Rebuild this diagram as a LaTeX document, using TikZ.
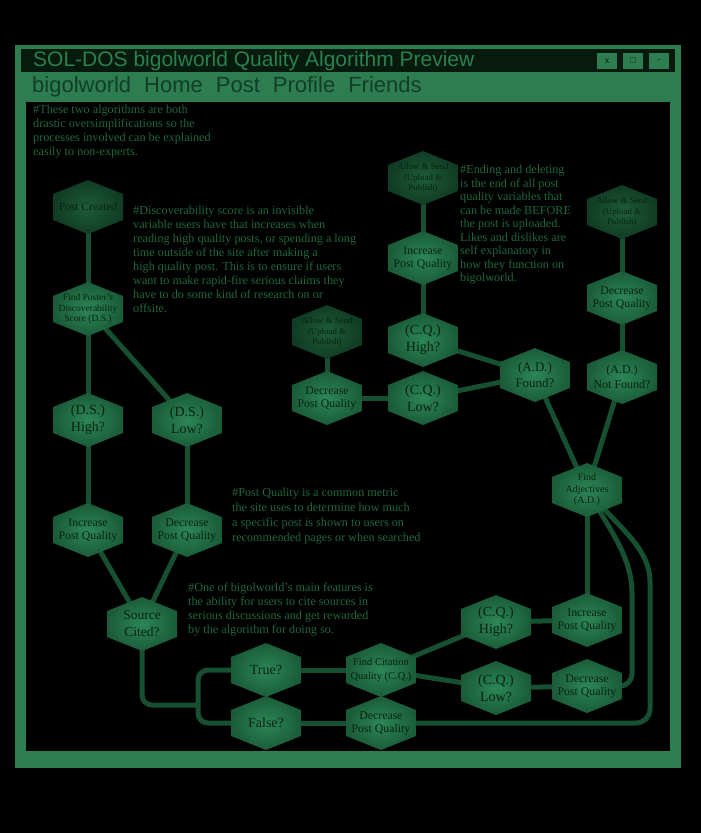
\documentclass[tikz,border=0pt]{standalone}
\usepackage{fontspec}
\setmainfont{Liberation Serif}
\newfontfamily\uifont{Liberation Sans}
\usetikzlibrary{positioning,calc,backgrounds}

\begin{document}
\begin{tikzpicture}[x=1pt, y=-1pt, every node/.style={inner sep=0pt},
        hexshade/.style={inner color=hexlight, outer color=hexdark},
        hexcell/.style={minimum width=70pt, minimum height=54pt, align=center, text=hexink,
            font=\fontsize{11.8}{13}\selectfont,
            path picture={\shade[hexshade]
                (path picture bounding box.north)
                -- ([yshift=-14pt]path picture bounding box.north east)
                -- ([yshift=14pt]path picture bounding box.south east)
                -- (path picture bounding box.south)
                -- ([yshift=14pt]path picture bounding box.south west)
                -- ([yshift=-14pt]path picture bounding box.north west) -- cycle;}},
        endcell/.style={hexcell, font=\fontsize{8.8}{10.5}\selectfont,
            hexshade/.style={inner color=endlight, outer color=enddark}},
        link/.style={draw=linkgreen, line width=5pt},
        note/.style={anchor=north west, align=left, text=notegreen, font=\fontsize{12.2}{14}\selectfont},
        button/.style={fill=framegreen, minimum width=20pt, minimum height=16pt, text=hexink,
            font=\uifont\fontsize{9}{9}\selectfont}]
    \definecolor{framegreen}{RGB}{45,125,80}
    \definecolor{titlebar}{RGB}{6,26,14}
    \definecolor{titleink}{RGB}{42,128,78}
    \definecolor{menuink}{RGB}{18,62,38}
    \definecolor{hexlight}{RGB}{44,134,85}
    \definecolor{hexdark}{RGB}{26,92,56}
    \definecolor{endlight}{RGB}{30,92,58}
    \definecolor{enddark}{RGB}{16,60,36}
    \definecolor{hexink}{RGB}{8,34,19}
    \definecolor{linkgreen}{RGB}{22,80,48}
    \definecolor{notegreen}{RGB}{30,104,60}

    \useasboundingbox (0,0) rectangle (701,833);

    % Title bar and menu
    \node[anchor=west, text=titleink, font=\uifont\fontsize{21}{24}\selectfont] (title) at (33,61) {SOL-DOS bigolworld Quality Algorithm Preview};
    \node[button] (btnclose) at (607,61) {x};
    \node[button] (btnmax) at (633,61) {□};
    \node[button] (btnmin) at (659,61) {-};
    \node[anchor=west, text=menuink, font=\uifont\fontsize{22}{24}\selectfont] (menu) at (32,87) {bigolworld\hspace{13pt}Home\hspace{13pt}Post\hspace{13pt}Profile\hspace{13pt}Friends};

    % Notes
    \node[note] (noteintro) at (33,105) {\#These two algorithms are both\\drastic oversimplifications so the\\processes involved can be explained\\easily to non-experts.};
    \node[note] (noteds) at (133,206) {\#Discoverability score is an invisible\\variable users have that increases when\\reading high quality posts, or spending a long\\time outside of the site after making a\\high quality post. This is to ensure if users\\want to make rapid-fire serious claims they\\have to do some kind of research on or\\offsite.};
    \node[note, font=\fontsize{12.2}{13.5}\selectfont] (notead) at (460,165) {\#Ending and deleting\\is the end of all post\\quality variables that\\can be made BEFORE\\the post is uploaded.\\Likes and dislikes are\\self explanatory in\\how they function on\\bigolworld.};
    \node[note, font=\fontsize{12.2}{15}\selectfont] (notepq) at (232,488) {\#Post Quality is a common metric\\the site uses to determine how much\\a specific post is shown to users on\\recommended pages or when searched};
    \node[note] (notecite) at (188,583) {\#One of bigolworld's main features is\\the ability for users to cite sources in\\serious discussions and get rewarded\\by the algorithm for doing so.};

    % Discoverability branch
    \node[endcell, font=\fontsize{11.5}{13}\selectfont] (postcreated) at (88,207) {Post Created};
    \node[hexcell, font=\fontsize{9.5}{10.5}\selectfont] (findds) at (88,309) {Find Poster's\\Discoverability\\Score (D.S.)};
    \node[hexcell, font=\fontsize{14}{17}\selectfont] (dshigh) at (88,420) {(D.S.)\\High?};
    \node[hexcell, font=\fontsize{14}{17}\selectfont] (dslow) at (187,420) {(D.S.)\\Low?};
    \node[hexcell] (incds) at (88,530) {Increase\\Post Quality};
    \node[hexcell] (decds) at (187,530) {Decrease\\Post Quality};

    % Citation branch
    \node[hexcell, font=\fontsize{13.5}{17}\selectfont] (source) at (142,624) {Source\\Cited?};
    \node[hexcell, font=\fontsize{14}{17}\selectfont] (truebox) at (266,670) {True?};
    \node[hexcell, font=\fontsize{14}{17}\selectfont] (falsebox) at (266,723) {False?};
    \node[hexcell, font=\fontsize{10.5}{14}\selectfont] (findcq) at (381,670) {Find Citation\\Quality (C.Q.)};
    \node[hexcell] (decfalse) at (381,723) {Decrease\\Post Quality};
    \node[hexcell, font=\fontsize{14}{17}\selectfont] (cqhigh) at (496,622) {(C.Q.)\\High?};
    \node[hexcell, font=\fontsize{14}{17}\selectfont] (cqlow) at (496,688) {(C.Q.)\\Low?};
    \node[hexcell] (inccq) at (587,620) {Increase\\Post Quality};
    \node[hexcell] (deccq) at (587,686) {Decrease\\Post Quality};
    \coordinate (split) at (198,705);

    % A.D. branch
    \node[hexcell, font=\fontsize{10}{11.5}\selectfont] (findad) at (587,490) {Find\\Adjectives\\(A.D.)};
    \node[hexcell, font=\fontsize{13}{16}\selectfont] (adfound) at (535,375) {(A.D.)\\Found?};
    \node[hexcell, font=\fontsize{12}{15}\selectfont] (adnotfound) at (622,377) {(A.D.)\\Not Found?};
    \node[hexcell, font=\fontsize{14}{17}\selectfont] (cqhightop) at (423,340) {(C.Q.)\\High?};
    \node[hexcell, font=\fontsize{14}{17}\selectfont] (cqlowtop) at (423,398) {(C.Q.)\\Low?};
    \node[hexcell] (incad) at (423,258) {Increase\\Post Quality};
    \node[hexcell] (declow) at (327,398) {Decrease\\Post Quality};
    \node[hexcell] (decnf) at (622,298) {Decrease\\Post Quality};
    \node[endcell] (endhigh) at (423,178) {Allow \& Send\\(Upload \&\\Publish)};
    \node[endcell] (endlow) at (327,332) {Allow \& Send\\(Upload \&\\Publish)};
    \node[endcell] (endnf) at (622,212) {Allow \& Send\\(Upload \&\\Publish)};

    \begin{scope}[on background layer]
        % Screen and window frame
        \fill[black] (0,0) rectangle (701,833);
        \fill[framegreen] (15,45) rectangle (681,768);
        \fill[titlebar] (21,49) rectangle (675,72);
        \fill[black] (26,102) rectangle (670,751);

        % Connectors
        \draw[link] (postcreated.center) -- (findds.center);
        \draw[link] (findds.center) -- (dshigh.center);
        \draw[link] (findds.center) -- (dslow.center);
        \draw[link] (dshigh.center) -- (incds.center);
        \draw[link] (dslow.center) -- (decds.center);
        \draw[link] (incds.center) -- (source.center);
        \draw[link] (decds.center) -- (source.center);
        \draw[link, rounded corners=10pt] (source.center) |- (split);
        \draw[link, rounded corners=10pt] (truebox.center) -| (split);
        \draw[link, rounded corners=10pt] (falsebox.center) -| (split);
        \draw[link] (truebox.center) -- (findcq.center);
        \draw[link] (falsebox.center) -- (decfalse.center);
        \draw[link] (findcq.center) -- (cqhigh.center);
        \draw[link] (findcq.center) -- (cqlow.center);
        \draw[link] (cqhigh.center) -- (inccq.center);
        \draw[link] (cqlow.center) -- (deccq.center);
        \draw[link] (inccq.center) -- (findad.center);
        \draw[link, rounded corners=12pt] (deccq.center) -| ($(deccq.center)+(45,-80)$) to[out=90, in=-60] (findad.center);
        \draw[link, rounded corners=14pt] (decfalse.center) -| ($(deccq.center)+(63,-90)$) to[out=90, in=-50] (findad.center);
        \draw[link] (findad.center) -- (adfound.center);
        \draw[link] (findad.center) -- (adnotfound.center);
        \draw[link] (adfound.center) -- (cqhightop.center);
        \draw[link] (adfound.center) -- (cqlowtop.center);
        \draw[link] (cqhightop.center) -- (incad.center);
        \draw[link] (incad.center) -- (endhigh.center);
        \draw[link] (cqlowtop.center) -- (declow.center);
        \draw[link] (declow.center) -- (endlow.center);
        \draw[link] (adnotfound.center) -- (decnf.center);
        \draw[link] (decnf.center) -- (endnf.center);
    \end{scope}
\end{tikzpicture}
\end{document}
